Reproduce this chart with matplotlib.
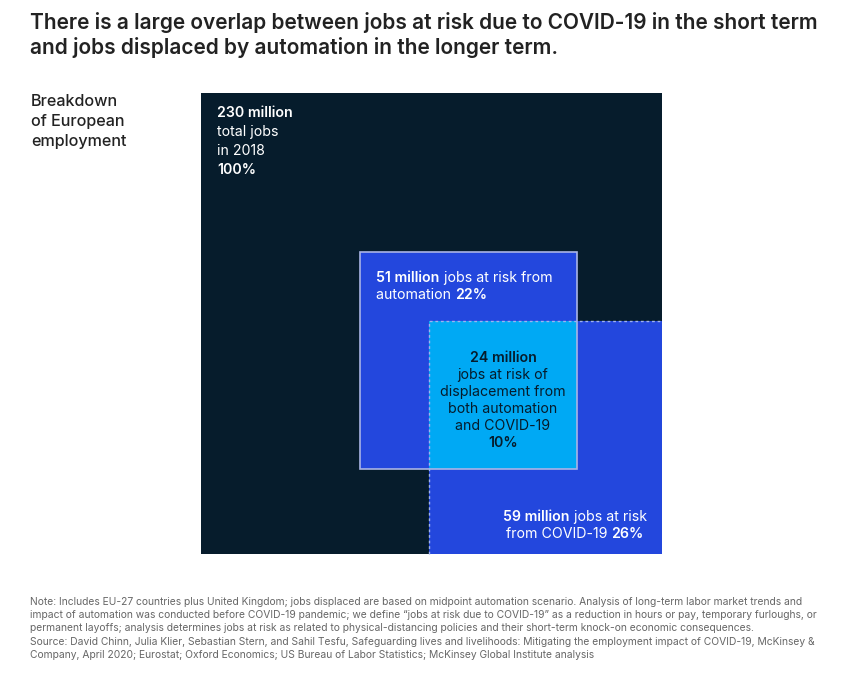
import numpy as np
import matplotlib.pyplot as plt
from matplotlib.patches import Rectangle

plt.rcParams['font.family'] = ['Inter', 'DejaVu Sans']

# values, million jobs
total_jobs = 230
auto_jobs = 51
covid_jobs = 59
both_jobs = 24
pct = [100, 22, 26, 10]

title = ('There is a large overlap between jobs at risk due to COVID-19 in the short term\n'
         'and jobs displaced by automation in the longer term.')
side_label = ['Breakdown', 'of European', 'employment']
note_lines = [
    'Note: Includes EU-27 countries plus United Kingdom; jobs displaced are based on midpoint automation scenario. Analysis of long-term labor market trends and',
    'impact of automation was conducted before COVID-19 pandemic; we define \u201cjobs at risk due to COVID-19\u201d as a reduction in hours or pay, temporary furloughs, or',
    'permanent layoffs; analysis determines jobs at risk as related to physical-distancing policies and their short-term knock-on economic consequences.',
    'Source: David Chinn, Julia Klier, Sebastian Stern, and Sahil Tesfu, Safeguarding lives and livelihoods: Mitigating the employment impact of COVID-19, McKinsey &',
    'Company, April 2020; Eurostat; Oxford Economics; US Bureau of Labor Statistics; McKinsey Global Institute analysis',
]

navy = '#061c2c'
blue = '#2347dd'
cyan = '#00a9f4'

fig = plt.figure(figsize=(8.64, 6.76), dpi=100)
ax = fig.add_axes([0, 0, 1, 1])
ax.set_xlim(0, 864)
ax.set_ylim(676, 0)
ax.axis('off')
r = fig.canvas.get_renderer()

# squares, area proportional to jobs
x0, y0, L = 201, 93, 461
s_auto = L * np.sqrt(auto_jobs / total_jobs)
s_cov = L * np.sqrt(covid_jobs / total_jobs)
s_both = L * np.sqrt(both_jobs / total_jobs)
cx, cy = x0 + L - s_cov, y0 + L - s_cov
ax_r, ax_b = cx + s_both, cy + s_both
axx, axy = ax_r - s_auto, ax_b - s_auto

ax.add_patch(Rectangle((x0, y0), L, L, color=navy, lw=0))
ax.add_patch(Rectangle((cx, cy), s_cov, s_cov, color=blue, lw=0))
ax.add_patch(Rectangle((axx, axy), s_auto, s_auto, color=blue, lw=0))
ax.add_patch(Rectangle((cx, cy), s_both, s_both, color=cyan, lw=0))
ax.add_patch(Rectangle((axx, axy), s_auto, s_auto, fill=False, ec='#a9b4e6', lw=1.2))
ax.plot([cx, cx, x0 + L], [y0 + L, cy, cy], color='#9fb2ee', lw=1, ls=(0, (2, 2)))


def pieces(x, y, parts, color, size, ha='left'):
    # draw runs of regular / bold text on one baseline
    ws = []
    for s, w in parts:
        t = ax.text(0, 0, s, fontsize=size, fontweight=w)
        ws.append(t.get_window_extent(r).width)
        t.remove()
    tot = sum(ws)
    if ha == 'center':
        x = x - tot / 2
    elif ha == 'right':
        x = x - tot
    for (s, w), wd in zip(parts, ws):
        ax.text(x, y, s, fontsize=size, fontweight=w, color=color, va='baseline')
        x += wd


fs = 10.2
pieces(217, 117, [(f'{total_jobs} million', 'semibold')], 'white', fs)
pieces(217, 136, [('total jobs', 'normal')], 'white', fs)
pieces(217, 155, [('in 2018', 'normal')], 'white', fs)
pieces(217, 174, [(f'{pct[0]}%', 'semibold')], 'white', fs)

pieces(axx + 16, 282, [(f'{auto_jobs} million', 'semibold'), (' jobs at risk from', 'normal')], 'white', fs)
pieces(axx + 16, 299, [('automation ', 'normal'), (f'{pct[1]}%', 'semibold')], 'white', fs)

bx = cx + s_both / 2
pieces(bx, 362, [(f'{both_jobs} million', 'semibold')], navy, fs, 'center')
for i, s in enumerate(['jobs at risk of', 'displacement from', 'both automation', 'and COVID-19']):
    pieces(bx, 379 + 17 * i, [(s, 'normal')], navy, fs, 'center')
pieces(bx, 447, [(f'{pct[3]}%', 'semibold')], navy, fs, 'center')

pieces(575, 521, [(f'{covid_jobs} million', 'semibold'), (' jobs at risk', 'normal')], 'white', fs, 'center')
pieces(575, 538, [('from COVID-19 ', 'normal'), (f'{pct[2]}%', 'semibold')], 'white', fs, 'center')

ax.text(30, 12, title, fontsize=15, fontweight='semibold', color='#222222', va='top', linespacing=1.22)
for i, s in enumerate(side_label):
    ax.text(31, 106 + 20 * i, s, fontsize=11.6, fontweight='medium', color='#222222', va='baseline')
for i, s in enumerate(note_lines):
    ax.text(30, 605 + 13.2 * i, s, fontsize=7.4, color='#666666', va='baseline')

fig.savefig('out.png', dpi=100)
